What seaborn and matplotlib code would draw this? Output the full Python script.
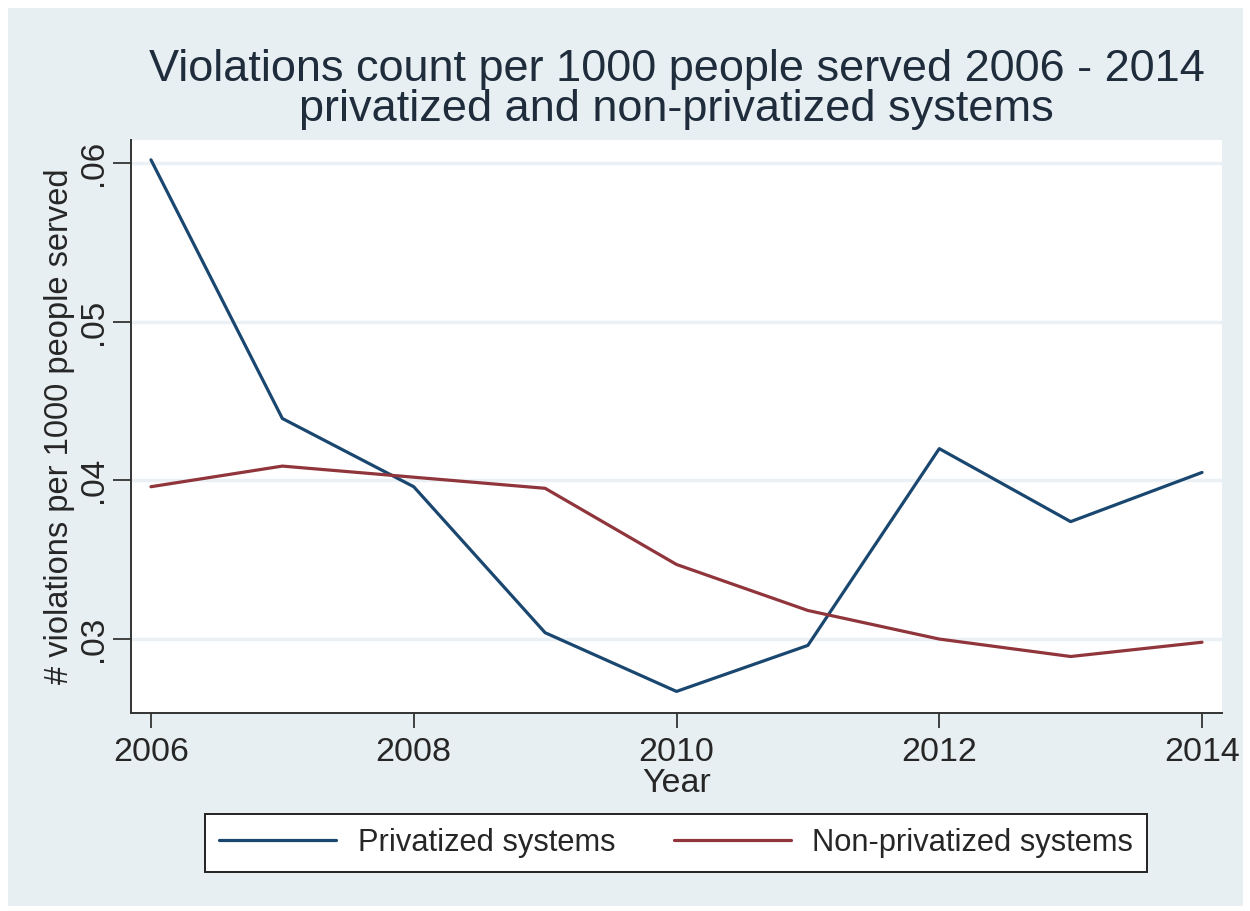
import matplotlib
matplotlib.use("Agg")
import matplotlib.pyplot as plt
from matplotlib.patches import Rectangle
import seaborn as sns
import pandas as pd

# data
years = [2006, 2007, 2008, 2009, 2010, 2011, 2012, 2013, 2014]
privatized = [0.0602, 0.0439, 0.0396, 0.0304, 0.0267, 0.0296, 0.0420, 0.0374, 0.0405]
non_privatized = [0.0396, 0.0409, 0.0402, 0.0395, 0.0347, 0.0318, 0.0300, 0.0289, 0.0298]
series_names = ["Privatized systems", "Non-privatized systems"]
x_ticks = [2006, 2008, 2010, 2012, 2014]
y_ticks = [0.03, 0.04, 0.05, 0.06]
y_tick_labels = [".03", ".04", ".05", ".06"]

df = pd.DataFrame({
    "Year": years * 2,
    "value": privatized + non_privatized,
    "series": [series_names[0]] * len(years) + [series_names[1]] * len(years),
})

sns.set_style("white")
plt.rcParams["font.family"] = ["Liberation Sans", "DejaVu Sans"]

bg = "#E8EFF2"
grid_c = "#EAF0F3"

fig = plt.figure(figsize=(12.5, 9.11), dpi=100)
fig.patch.set_facecolor("white")
fig.patches.append(Rectangle((8 / 1250, 1 - 906 / 911), (1243 - 8) / 1250, (906 - 8) / 911,
                             transform=fig.transFigure, facecolor=bg, edgecolor="none", zorder=-10))

ax = fig.add_axes([131 / 1250, 1 - 713 / 911, (1222 - 131) / 1250, (713 - 140) / 911])
ax.set_facecolor("white")

sns.lineplot(data=df, x="Year", y="value", hue="series", ax=ax,
             palette=["#1A476F", "#90353B"], linewidth=2.3, legend=False)

ax.set_xlim(2005.848, 2014.152)
ax.set_ylim(0.02534, 0.06145)
ax.set_xticks(x_ticks)
ax.set_xticklabels([str(t) for t in x_ticks], fontsize=24.5)
ax.set_yticks(y_ticks)
ax.set_yticklabels(y_tick_labels, fontsize=24, rotation=90, va="center")
ax.grid(axis="y", color=grid_c, linewidth=2.5)
ax.set_axisbelow(True)

for side in ["top", "right"]:
    ax.spines[side].set_visible(False)
for side in ["left", "bottom"]:
    ax.spines[side].set_color("#333333")
    ax.spines[side].set_linewidth(1.4)
ax.tick_params(axis="x", which="major", length=11, width=1.3, color="#333333",
               direction="out", bottom=True, pad=6)
ax.tick_params(axis="y", which="major", length=13, width=1.3, color="#333333",
               direction="out", left=True, pad=3)

ax.set_xlabel("Year", fontsize=24.5, labelpad=0)
ax.set_ylabel("# violations per 1000 people served", fontsize=23.5, labelpad=2)
ax.set_title("Violations count per 1000 people served 2006 - 2014\nprivatized and non-privatized systems",
             fontsize=32.5, color="#1E2C3C", pad=14, linespacing=0.95)

handles = ax.get_lines()[:2]
leg = fig.legend(handles, series_names, loc="center", ncol=2,
                 bbox_to_anchor=(676 / 1250, 1 - 843 / 911), fontsize=22.2,
                 frameon=True, fancybox=False, handlelength=3.8, columnspacing=1.9,
                 borderpad=0.45, handletextpad=0.7)
leg.get_frame().set_edgecolor("#222222")
leg.get_frame().set_linewidth(1.4)
leg.get_frame().set_facecolor("white")
leg.get_frame().set_alpha(1)

fig.savefig("out.png", dpi=100, facecolor=fig.get_facecolor())
